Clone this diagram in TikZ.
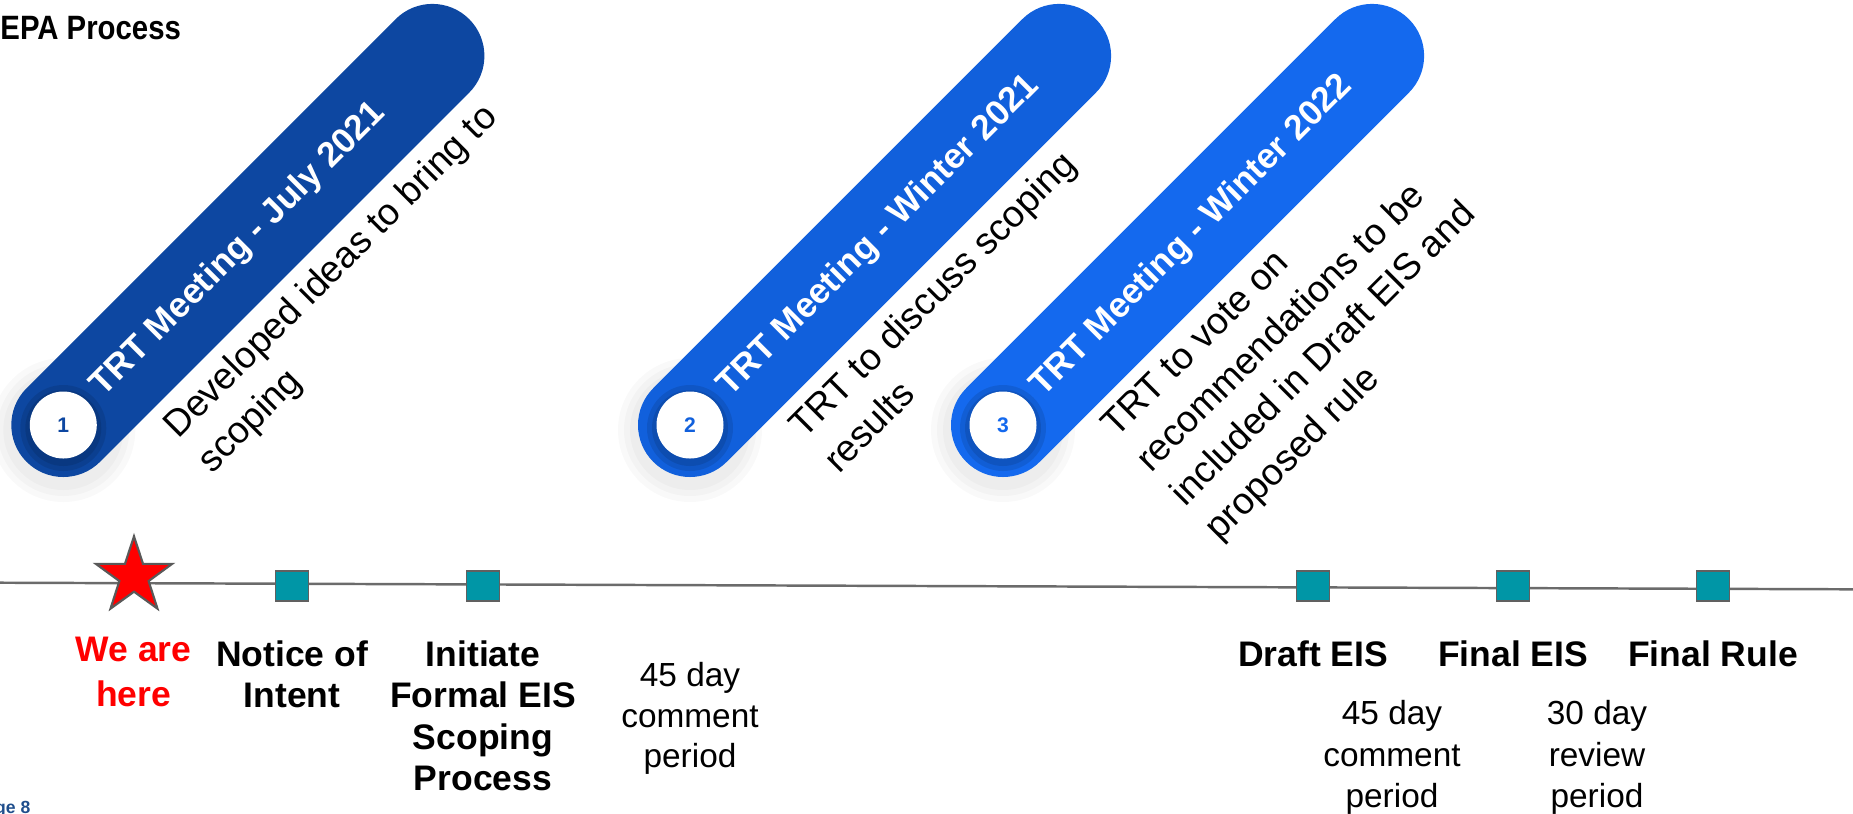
\documentclass[tikz,border=0pt]{standalone}
\usepackage{fontspec}
\setmainfont{Liberation Sans}
\newfontfamily\titlefont{Liberation Sans}[FakeStretch=0.87]
\usepackage{xcolor}
\usetikzlibrary{positioning, shapes.geometric}

\definecolor{pillone}{HTML}{0D47A1}
\definecolor{pilltwo}{HTML}{1160DC}
\definecolor{pillthree}{HTML}{1469EE}
\definecolor{milestone}{HTML}{0096A6}
\definecolor{timeline}{HTML}{6B6B6B}
\definecolor{pagenum}{HTML}{1F4E8C}

\begin{document}
\begin{tikzpicture}[
    pill/.style={line width=1.04cm, line cap=round},
    halo/.style={black, opacity=0.025},
    ring/.style={black, opacity=0.1},
    numdot/.style={circle, fill=white, minimum size=0.67cm, inner sep=0pt, font=\bfseries\fontsize{6}{7}\selectfont},
    pilltext/.style={rotate=45, anchor=west, inner sep=0pt, text=white, font=\bfseries\fontsize{10}{12}\selectfont},
    note/.style={rotate=45, anchor=north west, inner sep=0pt, align=left, font=\fontsize{10.6}{13.8}\selectfont},
    mssquare/.style={rectangle, draw=gray!75!black, line width=0.5pt, fill=milestone, minimum width=0.33cm, minimum height=0.30cm, inner sep=0pt},
    mslabel/.style={anchor=north, inner sep=0pt, align=center, font=\bfseries\fontsize{10.1}{11.8}\selectfont},
    period/.style={anchor=north, inner sep=0pt, align=center, font=\fontsize{9.5}{11.5}\selectfont}
]
\useasboundingbox (0,0) rectangle (18.53,-8.13);

% Title and page number
\node[anchor=base east, inner sep=0pt, font=\titlefont\bfseries\fontsize{9.6}{11}\selectfont] (title) at (1.817,-0.393) {EPA Process};
\node[anchor=base east, inner sep=0pt, text=pagenum, font=\bfseries\fontsize{5}{6}\selectfont] (page) at (0.31,-8.13) {ge 8};

% Meeting 1
\coordinate (c1) at (0.633,-4.25);
\foreach \r in {0.60,0.66,0.72} \fill[halo] ([yshift=-0.5mm]c1) circle (\r);
\begin{scope}[shift={(c1)}, rotate=45]
  \draw[pill, pillone] (0,0) -- (5.22,0);
  \node[pilltext] (meet1) at (0.47,0) {TRT Meeting - July 2021};
  \node[note] (note1) at (0.70,-0.64) {Developed ideas to bring to\\scoping};
\end{scope}
\foreach \r in {0.38,0.43} \fill[ring] ([yshift=-0.3mm]c1) circle (\r);
\node[numdot, text=pillone] (num1) at (c1) {1};

% Meeting 2
\coordinate (c2) at (6.90,-4.25);
\foreach \r in {0.60,0.66,0.72} \fill[halo] ([yshift=-0.5mm]c2) circle (\r);
\begin{scope}[shift={(c2)}, rotate=45]
  \draw[pill, pilltwo] (0,0) -- (5.22,0);
  \node[pilltext] (meet2) at (0.47,0) {TRT Meeting - Winter 2021};
  \node[note] (note2) at (0.70,-0.64) {TRT to discuss scoping\\results};
\end{scope}
\foreach \r in {0.38,0.43} \fill[ring] ([yshift=-0.3mm]c2) circle (\r);
\node[numdot, text=pilltwo] (num2) at (c2) {2};

% Meeting 3
\coordinate (c3) at (10.03,-4.25);
\foreach \r in {0.60,0.66,0.72} \fill[halo] ([yshift=-0.5mm]c3) circle (\r);
\begin{scope}[shift={(c3)}, rotate=45]
  \draw[pill, pillthree] (0,0) -- (5.22,0);
  \node[pilltext] (meet3) at (0.47,0) {TRT Meeting - Winter 2022};
  \node[note] (note3) at (0.70,-0.64) {TRT to vote on\\recommendations to be\\included in Draft EIS and\\proposed rule};
\end{scope}
\foreach \r in {0.38,0.43} \fill[ring] ([yshift=-0.3mm]c3) circle (\r);
\node[numdot, text=pillthree] (num3) at (c3) {3};

% Timeline
\coordinate (tlstart) at (0,-5.827);
\coordinate (tlend) at (18.53,-5.893);
\draw[timeline, line width=0.7pt] (tlstart) -- (tlend);

% Milestones
\node[star, star points=5, star point ratio=2.6, minimum size=0.80cm, inner sep=0pt, fill=red, draw=gray!70!black, line width=0.6pt] (here) at (1.34,-5.763) {};
\node[mssquare] (notice) at (2.92,-5.857) {};
\node[mssquare] (scoping) at (4.83,-5.857) {};
\node[mssquare] (draft) at (13.13,-5.857) {};
\node[mssquare] (final) at (15.13,-5.857) {};
\node[mssquare] (rule) at (17.13,-5.857) {};

% Labels
\node[mslabel, text=red, font=\bfseries\fontsize{10.1}{12.8}\selectfont] (herelbl) at (1.335,-6.36) {We are\\here};
\node[mslabel] (noticelbl) at (2.92,-6.40) {Notice of\\Intent};
\node[mslabel] (scopinglbl) at (4.83,-6.40) {Initiate\\Formal EIS\\Scoping\\Process};
\node[period] (comment1) at (6.90,-6.62) {45 day\\comment\\period};
\node[mslabel] (draftlbl) at (13.13,-6.40) {Draft EIS};
\node[mslabel] (finallbl) at (15.13,-6.40) {Final EIS};
\node[mslabel] (rulelbl) at (17.13,-6.40) {Final Rule};
\node[period, font=\fontsize{9.5}{11.7}\selectfont] (comment2) at (13.92,-7.00) {45 day\\comment\\period};
\node[period, font=\fontsize{9.5}{11.7}\selectfont] (review) at (15.97,-7.00) {30 day\\review\\period};

\end{tikzpicture}
\end{document}
